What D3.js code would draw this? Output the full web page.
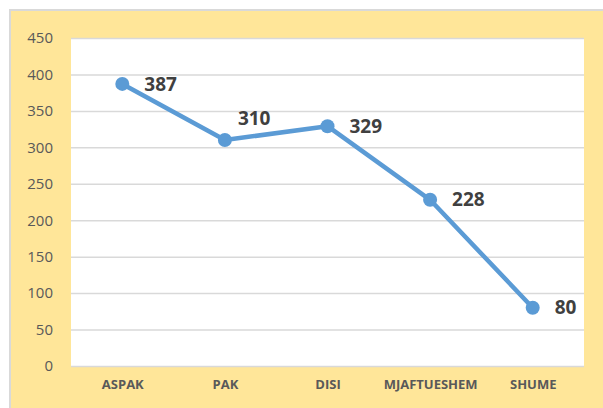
<!DOCTYPE html>
<html lang="en">
<head>
<meta charset="utf-8">
<script src="https://d3js.org/d3.v7.min.js"></script>
<style>
  body { margin: 0; background: #fff; }
</style>
</head>
<body>
<div id="my_dataviz"></div>
<script>
// data
var categories = ["ASPAK", "PAK", "DISI", "MJAFTUESHEM", "SHUME"];
var values = [387, 310, 329, 228, 80];
var yTicks = [0, 50, 100, 150, 200, 250, 300, 350, 400, 450];

var W = 603, H = 408;
var margin = {top: 38, right: 19, bottom: 42, left: 71},
    width = W - margin.left - margin.right,
    height = H - margin.top - margin.bottom;

var root = d3.select("#my_dataviz")
  .append("svg")
  .attr("width", W)
  .attr("height", H);

// yellow chart area with thin grey border (runs off the right/bottom edge)
root.append("rect")
  .attr("x", 10).attr("y", 10)
  .attr("width", W + 10).attr("height", H + 10)
  .style("fill", "#FFE699")
  .style("stroke", "#D9D9D9")
  .style("stroke-width", 2)

var svg = root.append("g")
  .attr("transform", "translate(" + margin.left + "," + margin.top + ")")

// white plot area
svg.append("rect")
  .attr("x", 0).attr("y", 0)
  .attr("width", width).attr("height", height)
  .style("fill", "#fff")

var x = d3.scalePoint()
  .domain(categories)
  .range([0, width])
  .padding(0.5)

var y = d3.scaleLinear()
  .domain([0, 450])
  .range([height, 0])

// gridlines + y labels
var yAxis = svg.append("g")
  .call(d3.axisLeft(y).tickValues(yTicks).tickSize(-width).tickPadding(18))
yAxis.select(".domain").remove()
yAxis.selectAll(".tick line").attr("stroke", "#D9D9D9").attr("stroke-width", 1.5)
yAxis.selectAll(".tick text")
  .attr("fill", "#595959")
  .style("font-family", "'Open Sans', sans-serif")
  .style("font-size", "15px")

// category labels
var xAxis = svg.append("g")
  .attr("transform", "translate(0," + height + ")")
  .call(d3.axisBottom(x).tickSize(0).tickPadding(14))
xAxis.select(".domain").remove()
xAxis.selectAll(".tick text")
  .attr("fill", "#595959")
  .style("font-family", "'Open Sans', sans-serif")
  .style("font-size", "13px")
  .style("font-weight", "bold")

var data = categories.map(function(c, i) { return {cat: c, val: values[i]}; });

// line
svg.append("path")
  .datum(data)
  .attr("fill", "none")
  .attr("stroke", "#5B9BD5")
  .attr("stroke-width", 4.5)
  .attr("stroke-linejoin", "round")
  .attr("stroke-linecap", "round")
  .attr("d", d3.line()
    .x(function(d) { return x(d.cat); })
    .y(function(d) { return y(d.val); }))

// markers
svg.selectAll("circle.pt")
  .data(data)
  .enter()
  .append("circle")
    .attr("class", "pt")
    .attr("cx", function(d) { return x(d.cat); })
    .attr("cy", function(d) { return y(d.val); })
    .attr("r", 7)
    .style("fill", "#5B9BD5")

// value labels (the PAK one sits above-right, like in the original)
svg.selectAll("text.lbl")
  .data(data)
  .enter()
  .append("text")
    .attr("class", "lbl")
    .attr("x", function(d) { return x(d.cat) + (d.cat === "PAK" ? 13 : 22); })
    .attr("y", function(d) { return y(d.val) + (d.cat === "PAK" ? -22 : 0); })
    .attr("dy", "0.35em")
    .attr("fill", "#404040")
    .style("font-family", "'Open Sans', sans-serif")
    .style("font-size", "19px")
    .style("font-weight", "bold")
    .text(function(d) { return d.val; })
</script>
</body>
</html>
